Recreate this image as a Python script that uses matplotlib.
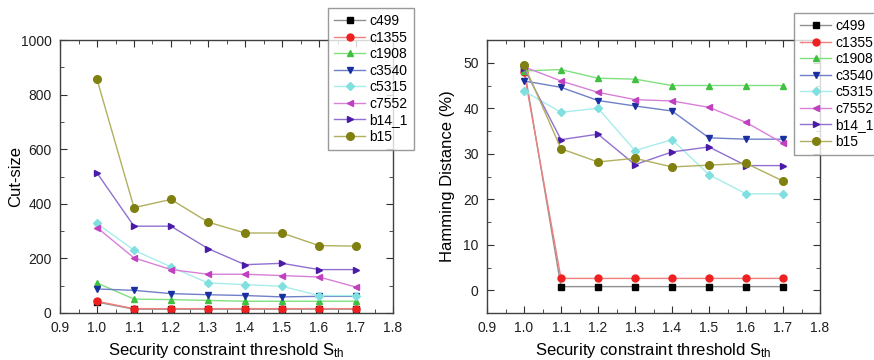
import numpy as np
import matplotlib
matplotlib.use("Agg")
import matplotlib.pyplot as plt
from matplotlib.ticker import MultipleLocator

plt.rcParams['font.family'] = ['Liberation Sans', 'DejaVu Sans']
plt.rcParams['mathtext.fontset'] = 'custom'
plt.rcParams['mathtext.rm'] = 'Liberation Sans'
plt.rcParams['mathtext.it'] = 'Liberation Sans'

# data
s_th = [1.0, 1.1, 1.2, 1.3, 1.4, 1.5, 1.6, 1.7]
names = ['c499', 'c1355', 'c1908', 'c3540', 'c5315', 'c7552', 'b14_1', 'b15']

cut_c499 = [40, 14, 14, 14, 14, 14, 14, 14]
cut_c1355 = [43, 16, 16, 16, 16, 16, 16, 16]
cut_c1908 = [110, 51, 49, 46, 43, 43, 43, 43]
cut_c3540 = [88, 83, 71, 67, 64, 59, 61, 61]
cut_c5315 = [328, 230, 169, 110, 104, 98, 64, 64]
cut_c7552 = [313, 202, 159, 142, 142, 137, 132, 95]
cut_b14_1 = [513, 318, 318, 236, 177, 182, 159, 159]
cut_b15 = [856, 386, 416, 333, 293, 293, 247, 245]

hd_c499 = [49.0, 0.8, 0.8, 0.8, 0.8, 0.8, 0.8, 0.8]
hd_c1355 = [48.0, 2.6, 2.6, 2.6, 2.6, 2.6, 2.6, 2.6]
hd_c1908 = [48.2, 48.5, 46.6, 46.4, 45.0, 45.0, 45.0, 45.0]
hd_c3540 = [46.0, 44.6, 41.7, 40.5, 39.4, 33.5, 33.2, 33.2]
hd_c5315 = [43.8, 39.1, 40.0, 30.7, 33.1, 25.4, 21.2, 21.2]
hd_c7552 = [49.1, 46.0, 43.5, 41.9, 41.6, 40.2, 36.9, 32.3]
hd_b14_1 = [48.8, 33.1, 34.3, 27.6, 30.4, 31.5, 27.4, 27.4]
hd_b15 = [49.6, 31.1, 28.2, 29.0, 27.1, 27.5, 27.9, 24.0]

cut_sets = [cut_c499, cut_c1355, cut_c1908, cut_c3540, cut_c5315, cut_c7552, cut_b14_1, cut_b15]
hd_sets = [hd_c499, hd_c1355, hd_c1908, hd_c3540, hd_c5315, hd_c7552, hd_b14_1, hd_b15]

markers = ['s', 'o', '^', 'v', 'D', '<', '>', 'o']
mcolors = ['#000000', '#ee2020', '#40c040', '#1a2fa0', '#80e0e0', '#c040c0', '#4a1aa8', '#808010']
lcolors = ['#909090', '#f08080', '#80e080', '#7080c8', '#a8ecec', '#d880d8', '#9070d0', '#b0b060']
msizes = [4.5, 5, 5, 5, 4.2, 5, 5, 5.5]

fig = plt.figure(figsize=(8.74, 3.6), dpi=100)
ax1 = fig.add_axes([60/874, 47/360, 333/874, 273/360])
ax2 = fig.add_axes([487/874, 47/360, 333/874, 273/360])


def draw(ax, sets):
    for i, vals in enumerate(sets):
        ax.plot(s_th, vals, color=lcolors[i], lw=1.0, marker=markers[i],
                markerfacecolor=mcolors[i], markeredgecolor=mcolors[i],
                markersize=msizes[i], label=names[i])
    ax.set_xlim(0.9, 1.8)
    ax.xaxis.set_major_locator(MultipleLocator(0.1))
    ax.xaxis.set_minor_locator(MultipleLocator(0.05))
    ax.xaxis.set_major_formatter(plt.FuncFormatter(lambda v, p: f"{v:.1f}"))
    ax.tick_params(which='both', direction='in', top=True, right=True,
                   labelsize=10, colors='#303030', labelcolor='#202020')
    ax.tick_params(which='major', length=5, pad=6)
    ax.tick_params(which='minor', length=3)
    for sp in ax.spines.values():
        sp.set_color('#404040')
        sp.set_linewidth(1.0)
    ax.set_xlabel(r"Security constraint threshold S$_{\rm th}$", fontsize=12, labelpad=4)


draw(ax1, cut_sets)
ax1.set_ylim(0, 1000)
ax1.yaxis.set_major_locator(MultipleLocator(200))
ax1.yaxis.set_minor_locator(MultipleLocator(100))
ax1.set_ylabel("Cut-size", fontsize=12)
ax1.yaxis.set_label_coords(-0.112, 0.5)

draw(ax2, hd_sets)
ax2.set_ylim(-5, 55)
ax2.yaxis.set_major_locator(MultipleLocator(10))
ax2.yaxis.set_minor_locator(MultipleLocator(5))
ax2.set_ylabel("Hamming Distance (%)", fontsize=12)
ax2.yaxis.set_label_coords(-0.095, 0.5)

for ax, anchor in [(ax1, (328/874, 1 - 8/360)), (ax2, (794/874, 1 - 13/360))]:
    leg = ax.legend(loc='upper left', bbox_to_anchor=anchor, bbox_transform=fig.transFigure,
                    fontsize=10, frameon=True, fancybox=False, handlelength=2.2,
                    handletextpad=0.3, labelspacing=0.18, borderpad=0.45, borderaxespad=0)
    leg.get_frame().set_edgecolor('#808080')
    leg.get_frame().set_linewidth(1.0)
    leg.set_zorder(10)

fig.savefig("out.png", dpi=100)
